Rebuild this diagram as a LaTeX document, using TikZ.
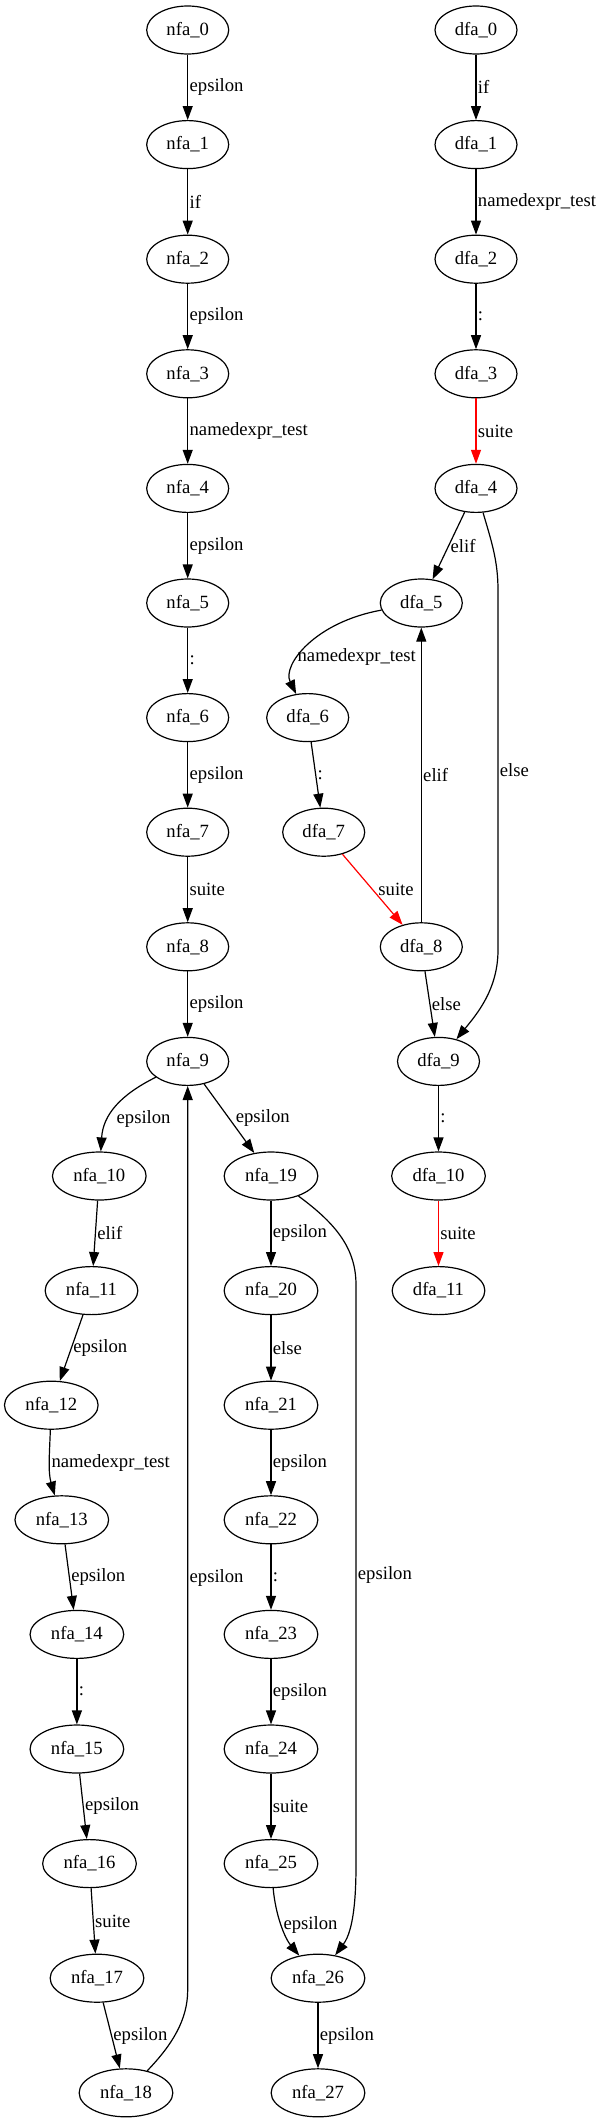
\documentclass[tikz,border=0pt]{standalone}
\usepackage{fontspec}
\setmainfont{Liberation Serif}
\usetikzlibrary{arrows.meta}
\usetikzlibrary{shapes.geometric}

\begin{document}
\begin{tikzpicture}[
	x=0.75pt, y=-0.75pt,
	every node/.style={font=\fontsize{14}{16}\selectfont},
	state/.style={draw, ellipse, line width=0.9pt, minimum width=61.5pt, minimum height=36pt, inner xsep=5.4pt, inner ysep=2pt},
	lbl/.style={anchor=west, inner sep=1pt, text=black},
	trans/.style={draw, line width=0.9pt, -{Triangle[length=10.5pt,width=7.5pt]}},
	transred/.style={trans, red},
	]
	\useasboundingbox (0,0) rectangle (599,2123);

	% nfa, main chain
	\node[state] (nfa0) at (187.7,30) {nfa\_0};
	\node[state] (nfa1) at (187.7,144.6) {nfa\_1};
	\node[state] (nfa2) at (187.7,259.2) {nfa\_2};
	\node[state] (nfa3) at (187.7,373.8) {nfa\_3};
	\node[state] (nfa4) at (187.7,488.4) {nfa\_4};
	\node[state] (nfa5) at (187.7,603) {nfa\_5};
	\node[state] (nfa6) at (187.7,717.6) {nfa\_6};
	\node[state] (nfa7) at (187.7,832.2) {nfa\_7};
	\node[state] (nfa8) at (187.7,946.8) {nfa\_8};
	\node[state] (nfa9) at (187.7,1061.4) {nfa\_9};
	% nfa, elif branch
	\node[state] (nfa10) at (99.3,1176) {nfa\_10};
	\node[state] (nfa11) at (91.5,1290.6) {nfa\_11};
	\node[state] (nfa12) at (51.3,1405.2) {nfa\_12};
	\node[state] (nfa13) at (61.8,1519.8) {nfa\_13};
	\node[state] (nfa14) at (76.9,1634.4) {nfa\_14};
	\node[state] (nfa15) at (76.9,1749) {nfa\_15};
	\node[state] (nfa16) at (89.5,1863.6) {nfa\_16};
	\node[state] (nfa17) at (97,1978.2) {nfa\_17};
	\node[state] (nfa18) at (126,2092.8) {nfa\_18};
	% nfa, else branch
	\node[state] (nfa19) at (271,1176) {nfa\_19};
	\node[state] (nfa20) at (271,1290.6) {nfa\_20};
	\node[state] (nfa21) at (271,1405.2) {nfa\_21};
	\node[state] (nfa22) at (271,1519.8) {nfa\_22};
	\node[state] (nfa23) at (271,1634.4) {nfa\_23};
	\node[state] (nfa24) at (271,1749) {nfa\_24};
	\node[state] (nfa25) at (271,1863.6) {nfa\_25};
	\node[state] (nfa26) at (318,1978.2) {nfa\_26};
	\node[state] (nfa27) at (318,2092.8) {nfa\_27};

	% dfa
	\node[state] (dfa0) at (476,30) {dfa\_0};
	\node[state] (dfa1) at (476,144.6) {dfa\_1};
	\node[state] (dfa2) at (476,259.2) {dfa\_2};
	\node[state] (dfa3) at (476,373.8) {dfa\_3};
	\node[state] (dfa4) at (476,488.4) {dfa\_4};
	\node[state] (dfa5) at (421.3,603) {dfa\_5};
	\node[state] (dfa6) at (307.7,717.6) {dfa\_6};
	\node[state] (dfa7) at (323.7,832.2) {dfa\_7};
	\node[state] (dfa8) at (421.3,946.8) {dfa\_8};
	\node[state] (dfa9) at (438.5,1061.4) {dfa\_9};
	\node[state] (dfa10) at (438.5,1176) {dfa\_10};
	\node[state] (dfa11) at (438.5,1290.6) {dfa\_11};

	% nfa edges
	\draw[trans] (nfa0) -- node[lbl] {epsilon} (nfa1);
	\draw[trans] (nfa1) -- node[lbl] {if} (nfa2);
	\draw[trans] (nfa2) -- node[lbl] {epsilon} (nfa3);
	\draw[trans] (nfa3) -- node[lbl] {namedexpr\_test} (nfa4);
	\draw[trans] (nfa4) -- node[lbl] {epsilon} (nfa5);
	\draw[trans] (nfa5) -- node[lbl] {:} (nfa6);
	\draw[trans] (nfa6) -- node[lbl] {epsilon} (nfa7);
	\draw[trans] (nfa7) -- node[lbl] {suite} (nfa8);
	\draw[trans] (nfa8) -- node[lbl] {epsilon} (nfa9);
	\draw[trans] (nfa9) .. controls (120,1095) and (103,1115) .. (nfa10) node[lbl, pos=0.65, xshift=4.5pt] {epsilon};
	\draw[trans] (nfa9) -- node[lbl, xshift=3.5pt] {epsilon} (nfa19);
	\draw[trans] (nfa10) -- node[lbl] {elif} (nfa11);
	\draw[trans] (nfa11) -- node[lbl] {epsilon} (nfa12);
	\draw[trans] (nfa12) .. controls (49.4,1455) and (48,1472) .. (nfa13) node[lbl, pos=0.5] {namedexpr\_test};
	\draw[trans] (nfa13) -- node[lbl] {epsilon} (nfa14);
	\draw[trans] (nfa14) -- node[lbl] {:} (nfa15);
	\draw[trans] (nfa15) -- node[lbl] {epsilon} (nfa16);
	\draw[trans] (nfa16) -- node[lbl] {suite} (nfa17);
	\draw[trans] (nfa17) -- node[lbl] {epsilon} (nfa18);
	\draw[trans] (nfa18) .. controls (172,2045) and (187.7,2020) .. (187.7,1990) -- node[lbl, pos=0.456] {epsilon} (nfa9);
	\draw[trans] (nfa19) -- node[lbl] {epsilon} (nfa20);
	\draw[trans] (nfa20) -- node[lbl] {else} (nfa21);
	\draw[trans] (nfa21) -- node[lbl] {epsilon} (nfa22);
	\draw[trans] (nfa22) -- node[lbl] {:} (nfa23);
	\draw[trans] (nfa23) -- node[lbl] {epsilon} (nfa24);
	\draw[trans] (nfa24) -- node[lbl] {suite} (nfa25);
	\draw[trans] (nfa25) .. controls (275.5,1915) and (284.7,1938) .. (nfa26) node[lbl, pos=0.5] {epsilon};
	\draw[trans] (nfa19) .. controls (338,1225) and (356,1250) .. (356,1285) -- node[lbl] {epsilon} (356,1865) .. controls (356,1895) and (354,1930) .. (nfa26);
	\draw[trans] (nfa26) -- node[lbl] {epsilon} (nfa27);

	% dfa edges
	\draw[trans] (dfa0) -- node[lbl] {if} (dfa1);
	\draw[trans] (dfa1) -- node[lbl] {namedexpr\_test} (dfa2);
	\draw[trans] (dfa2) -- node[lbl] {:} (dfa3);
	\draw[transred] (dfa3) -- node[lbl] {suite} (dfa4);
	\draw[trans] (dfa4) -- node[lbl] {elif} (dfa5);
	\draw[trans] (dfa4) .. controls (491,540) and (498,560) .. (498,590) -- node[lbl] {else} (498,950) .. controls (498,990) and (476,1015) .. (dfa9);
	\draw[trans] (dfa5) .. controls (315,622) and (282,665) .. (dfa6) node[lbl, pos=0.62, xshift=-3pt] {namedexpr\_test};
	\draw[trans] (dfa6) -- node[lbl] {:} (dfa7);
	\draw[transred] (dfa7) -- node[lbl, xshift=3pt] {suite} (dfa8);
	\draw[trans] (dfa8) -- node[lbl] {elif} (dfa5);
	\draw[trans] (dfa8) -- node[lbl] {else} (dfa9);
	\draw[trans] (dfa9) -- node[lbl] {:} (dfa10);
	\draw[transred] (dfa10) -- node[lbl] {suite} (dfa11);
\end{tikzpicture}
\end{document}
